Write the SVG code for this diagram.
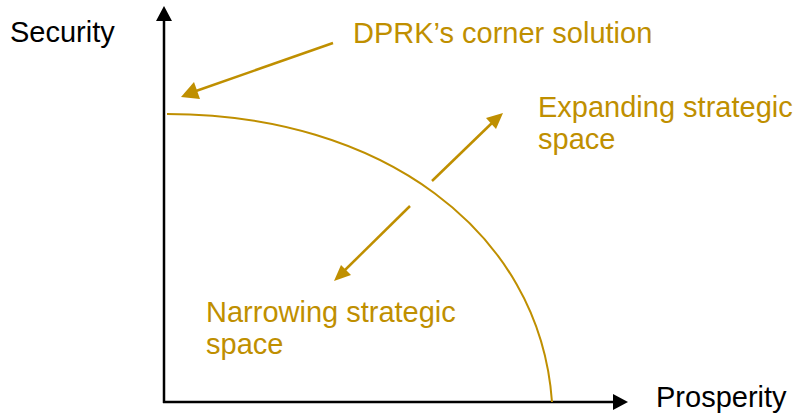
<svg xmlns="http://www.w3.org/2000/svg" width="801" height="419" viewBox="0 0 801 419">
<style>
.ax{stroke:#000;stroke-width:2.5;fill:none}
.gl{stroke:#BF8F00;stroke-width:2.5;fill:none}
.cv{stroke:#BF8F00;stroke-width:2;fill:none}
.hd{fill:#BF8F00}
text{font-family:"Liberation Sans",Arial,sans-serif;font-size:29px}
.lb{fill:#000}
.gt{fill:#BF8F00}
</style>
<rect width="801" height="419" fill="#fff"/>
<g id="axes">
<line class="ax" x1="164" y1="403" x2="164" y2="20"/>
<path d="M164,6 L156,21 L172,21 Z" fill="#000"/>
<line class="ax" x1="163" y1="402" x2="614" y2="402"/>
<path d="M628,402 L613,394 L613,410 Z" fill="#000"/>
</g>
<g id="frontier">
<path class="cv" d="M167,114 C380,114 540,230 552,402"/>
</g>
<g id="connectors">
<line class="gl" x1="333" y1="43" x2="196" y2="91"/>
<path class="hd" d="M181,97 L194,82 L200,99 Z"/>
<line class="gl" x1="432" y1="181" x2="493" y2="122"/>
<path class="hd" d="M503,113 L496,129 L486,118 Z"/>
<line class="gl" x1="410" y1="206" x2="344" y2="271"/>
<path class="hd" d="M334,281 L341,265 L351,275 Z"/>
</g>
<g id="labels">
<text class="lb" x="10" y="42">Security</text>
<text class="lb" x="656" y="407">Prosperity</text>
<text class="gt" x="353" y="43">DPRK’s corner solution</text>
<text class="gt" x="538" y="117">Expanding strategic</text>
<text class="gt" x="538" y="149">space</text>
<text class="gt" x="206" y="322">Narrowing strategic</text>
<text class="gt" x="206" y="354">space</text>
</g>
</svg>
